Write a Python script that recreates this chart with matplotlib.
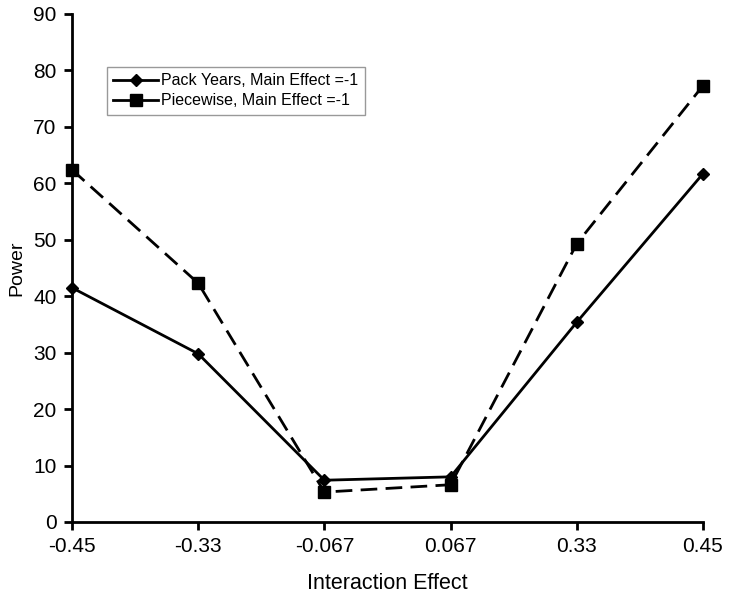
import matplotlib
matplotlib.use("Agg")
import matplotlib.pyplot as plt
from matplotlib.lines import Line2D

plt.rcParams['font.family'] = ['Liberation Sans', 'DejaVu Sans']

categories = ["-0.45", "-0.33", "-0.067", "0.067", "0.33", "0.45"]
pack_years = [41.5, 29.8, 7.4, 8.0, 35.4, 61.7]
piecewise = [62.4, 42.3, 5.3, 6.6, 49.3, 77.3]
series_labels = ["Pack Years, Main Effect =-1", "Piecewise, Main Effect =-1"]

fig = plt.figure(figsize=(7.29, 5.95), dpi=100)
ax = fig.add_axes([0.0988, 0.1227, 0.8655, 0.8538])

x = list(range(len(categories)))
ax.plot(x, pack_years, color='black', lw=2, marker='D', markersize=6.5,
        clip_on=False, zorder=3)
ax.plot(x, piecewise, color='black', lw=2, ls=(0, (6, 3)), marker='s',
        markersize=8, clip_on=False, zorder=3)

ax.set_xlim(0, len(categories) - 1)
ax.set_ylim(0, 90)
ax.set_xticks(x)
ax.set_xticklabels(categories)
ax.set_yticks(range(0, 91, 10))

for s in ['top', 'right']:
    ax.spines[s].set_visible(False)
for s in ['left', 'bottom']:
    ax.spines[s].set_linewidth(2)
ax.tick_params(axis='both', direction='out', length=6, width=2, labelsize=15, pad=5)

ax.set_xlabel("Interaction Effect", fontsize=15.5, labelpad=12)
ax.set_ylabel("Power", fontsize=14, labelpad=6)

handles = [
    Line2D([], [], color='black', lw=2, marker='D', markersize=6.5),
    Line2D([], [], color='black', lw=2, marker='s', markersize=8),
]
leg = ax.legend(handles, series_labels, loc='upper left',
                bbox_to_anchor=(107 / 729, 1 - 67 / 595), bbox_transform=fig.transFigure,
                fontsize=11.5, frameon=True, fancybox=False, handlelength=2.8,
                borderpad=0.4, labelspacing=0.3, handletextpad=0.2, borderaxespad=0)
leg.get_frame().set_edgecolor('#808080')
leg.get_frame().set_linewidth(1)

fig.savefig("out.png", dpi=100)
